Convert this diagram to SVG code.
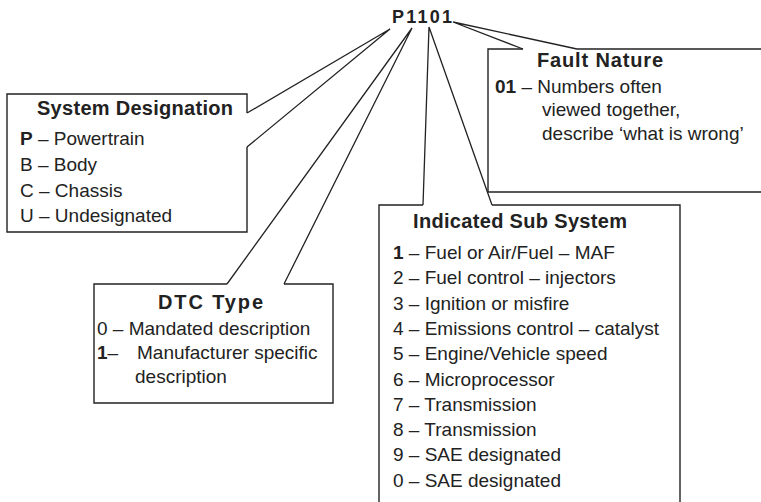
<svg xmlns="http://www.w3.org/2000/svg" width="761" height="502" viewBox="0 0 761 502">
<style>
  text { font-family: "Liberation Sans", Arial, sans-serif; fill: #222; }
  .h { font-size: 20px; font-weight: bold; }
  .b { font-size: 19px; }
  .bold { font-weight: bold; }
  .box { fill: none; stroke: #222; stroke-width: 1.4; stroke-linejoin: miter; }
  .con { fill: none; stroke: #222; stroke-width: 1.3; stroke-linejoin: miter; }
</style>
<rect x="0" y="0" width="761" height="502" fill="#ffffff"/>
<g id="code">
  <text x="392" y="23" font-size="18" font-weight="bold" textLength="60" lengthAdjust="spacing">P1101</text>
</g>
<g id="connectors">
  <polyline class="con" points="247,113 390,29 247,147"/>
  <polyline class="con" points="227,284 412,28 284,284"/>
  <polyline class="con" points="423,205 429,27 492,205"/>
  <polyline class="con" points="523,49 453,22 577,49"/>
</g>
<g id="system-designation">
  <path class="box" d="M247,147 V232 H7 V94 H247 V113"/>
  <text class="h" x="37" y="115" textLength="196" lengthAdjust="spacing">System Designation</text>
  <text class="b" x="20" y="145"><tspan class="bold">P</tspan> – Powertrain</text>
  <text class="b" x="20" y="171">B – Body</text>
  <text class="b" x="20" y="197">C – Chassis</text>
  <text class="b" x="20" y="222">U – Undesignated</text>
</g>
<g id="fault-nature">
  <path class="box" d="M577,49 H763 M763,192 H488 V49 H523"/>
  <text class="h" x="537" y="67" textLength="126" lengthAdjust="spacing">Fault Nature</text>
  <text class="b" x="495" y="93"><tspan class="bold">01</tspan> – Numbers often</text>
  <text class="b" x="542" y="116">viewed together,</text>
  <text class="b" x="542" y="140">describe ‘what is wrong’</text>
</g>
<g id="dtc-type">
  <path class="box" d="M284,284 H333 V403 H94 V284 H227"/>
  <text class="h" x="158" y="309" font-size="21" textLength="105" lengthAdjust="spacing">DTC Type</text>
  <text class="b" x="97" y="335">0 – Mandated description</text>
  <text class="b" x="97" y="359"><tspan class="bold">1</tspan>–<tspan x="137">Manufacturer specific</tspan></text>
  <text class="b" x="135" y="383">description</text>
</g>
<g id="indicated-sub-system">
  <path class="box" d="M492,205 H680 V504 M379,504 V205 H423"/>
  <text class="h" x="413" y="228" textLength="214" lengthAdjust="spacing">Indicated Sub System</text>
  <text class="b" x="393" y="259"><tspan class="bold">1</tspan> – Fuel or Air/Fuel – MAF</text>
  <text class="b" x="393" y="284.3">2 – Fuel control – injectors</text>
  <text class="b" x="393" y="309.6">3 – Ignition or misfire</text>
  <text class="b" x="393" y="334.9">4 – Emissions control – catalyst</text>
  <text class="b" x="393" y="360.2">5 – Engine/Vehicle speed</text>
  <text class="b" x="393" y="385.5">6 – Microprocessor</text>
  <text class="b" x="393" y="410.8">7 – Transmission</text>
  <text class="b" x="393" y="436.1">8 – Transmission</text>
  <text class="b" x="393" y="461.4">9 – SAE designated</text>
  <text class="b" x="393" y="486.7">0 – SAE designated</text>
</g>
</svg>
